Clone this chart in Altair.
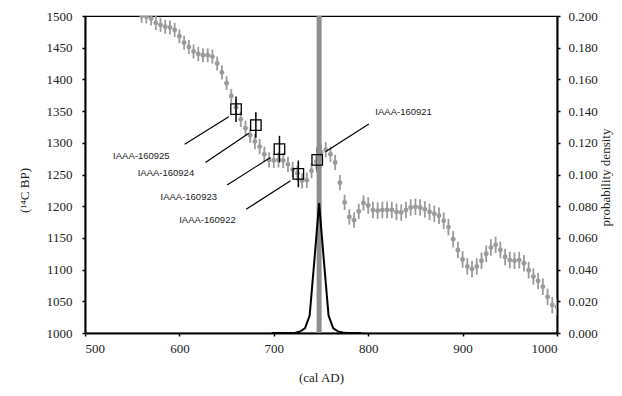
import altair as alt
import pandas as pd

# ---- calibration curve (IntCal-like), 5-year grid ----
cal_years = list(range(560, 1001, 5))
cal_c14 = [1500, 1499, 1496, 1489, 1486, 1483, 1482, 1478, 1468, 1458,
           1451, 1444, 1440, 1438, 1438, 1436, 1425, 1411, 1394, 1374,
           1356, 1337, 1323, 1312, 1302, 1294, 1282, 1273, 1272, 1273,
           1272, 1266, 1258, 1252, 1240, 1241, 1256, 1270, 1285, 1289,
           1282, 1269, 1237, 1206, 1183, 1178, 1192, 1205, 1201, 1194,
           1193, 1194, 1194, 1194, 1191, 1190, 1194, 1198, 1199, 1198,
           1195, 1191, 1188, 1185, 1177, 1167, 1148, 1131, 1116, 1105,
           1101, 1105, 1114, 1125, 1135, 1139, 1131, 1120, 1115, 1114,
           1115, 1110, 1099, 1089, 1082, 1073, 1057, 1044, 1041]
cal_err = [11, 11, 11, 11, 11, 11, 11, 11, 11, 11,
           11, 11, 11, 11, 11, 11, 11, 11, 11, 11,
           12, 12, 12, 12, 12, 12, 12, 12, 12, 12,
           12, 12, 12, 12, 12, 12, 12, 12, 12, 12,
           12, 12, 12, 12, 12, 12, 12, 12, 13, 13,
           13, 13, 13, 13, 13, 13, 13, 13, 13, 13,
           13, 13, 13, 13, 13, 13, 13, 13, 13, 13,
           13, 13, 13, 13, 13, 13, 13, 13, 13, 13,
           13, 13, 13, 13, 13, 13, 13, 13, 13]

# ---- samples ----
sample_ids = ["IAAA-160925", "IAAA-160924", "IAAA-160923", "IAAA-160922", "IAAA-160921"]
sample_years = [660, 681, 706, 726, 746]
sample_c14 = [1353, 1328, 1290, 1251, 1273]
sample_err = [20, 20, 21, 21, 20]

# ---- label annotations (data coordinates) ----
label_x = [559.7, 585.7, 609.9, 629.7, 837.5]
label_y = [1279, 1253, 1215, 1178, 1349]
lead_x1 = [605.6, 627.6, 650.6, 670.7, 800.7]
lead_y1 = [1297.6, 1269, 1233.4, 1195, 1329.7]
lead_x2 = [652.3, 673.5, 696.5, 717.7, 754.8]
lead_y2 = [1341, 1315, 1277, 1240, 1286]

# ---- marker of the outermost date ----
bar_year = [748]

# ---- probability density ----
dens_years = [698, 703, 708, 713, 718, 723, 728, 733, 738, 743, 748,
              753, 758, 763, 768, 773, 778, 783, 788, 793]
dens_vals = [0, 0, 0, 0, 0, 0.0002, 0.001, 0.003, 0.011, 0.046, 0.082,
             0.046, 0.011, 0.003, 0.001, 0.0003, 0, 0, 0, 0]

x_ticks = [500, 600, 700, 800, 900, 1000]
y_ticks = [1000, 1050, 1100, 1150, 1200, 1250, 1300, 1350, 1400, 1450, 1500]
p_ticks = [0.0, 0.02, 0.04, 0.06, 0.08, 0.10, 0.12, 0.14, 0.16, 0.18, 0.20]

curve_df = pd.DataFrame({"year": cal_years, "c14": cal_c14, "err": cal_err})
curve_df["lo"] = curve_df["c14"] - curve_df["err"]
curve_df["hi"] = curve_df["c14"] + curve_df["err"]
samp_df = pd.DataFrame({"id": sample_ids, "year": sample_years, "c14": sample_c14, "err": sample_err})
samp_df["lo"] = samp_df["c14"] - samp_df["err"]
samp_df["hi"] = samp_df["c14"] + samp_df["err"]
lab_df = pd.DataFrame({"id": sample_ids, "lx": label_x, "ly": label_y,
                       "x1": lead_x1, "y1": lead_y1, "x2": lead_x2, "y2": lead_y2})
bar_df = pd.DataFrame({"year": bar_year})
dens_df = pd.DataFrame({"year": dens_years, "p": dens_vals})

SERIF = "Liberation Serif"
GREY = "#9b9b9b"

x_scale = alt.Scale(domain=[500, 1000], nice=False)
y_scale = alt.Scale(domain=[1000, 1500], nice=False)

common = dict(grid=False, labelFont=SERIF, labelFontSize=13, labelColor="#222",
              labelOverlap=False,
              titleFont=SERIF, titleFontSize=13, titleFontWeight="normal", titleColor="#222",
              domainColor="black", domainWidth=2, tickColor="black", tickWidth=1.5, tickSize=3)

x_axis = alt.Axis(values=x_ticks, format="d", title="(cal AD)",
                  labelPadding=6, titleY=48, titleBaseline="alphabetic", **common)
y_axis = alt.Axis(values=y_ticks, format="d", title="(¹⁴C BP)", orient="left",
                  labelPadding=10, titleAngle=270, titleX=-57, titleY=174,
                  titleAlign="center", titleBaseline="alphabetic", **common)
p_axis = alt.Axis(values=p_ticks, format=".3f", title="probability density", orient="right",
                  labelPadding=8, titleAngle=270, titleX=52, titleY=161,
                  titleAlign="center", titleBaseline="alphabetic", **common)


def X(f):
    return alt.X(f, type="quantitative", scale=x_scale, axis=x_axis)


def Y(f):
    return alt.Y(f, type="quantitative", scale=y_scale, axis=y_axis)


curve_err_l = alt.Chart(curve_df).mark_rule(color=GREY, strokeWidth=1.8, clip=True).encode(
    x=X("year"), y=Y("lo"), y2="hi:Q",
)
curve_pts_l = alt.Chart(curve_df).mark_circle(color=GREY, size=24, opacity=1, clip=True).encode(
    x=X("year"), y=Y("c14")
)
samp_err_l = alt.Chart(samp_df).mark_rule(color="black", strokeWidth=1.5).encode(
    x=X("year"), y=Y("lo"), y2="hi:Q"
)
bar_l = alt.Chart(bar_df).mark_rule(color="#8e8e8e", strokeWidth=5).encode(x=X("year"))
squares_l = alt.Chart(samp_df).mark_point(shape="square", filled=False, color="black",
                                          size=110, strokeWidth=1.3, opacity=1).encode(
    x=X("year"), y=Y("c14")
)
leaders_l = alt.Chart(lab_df).mark_rule(color="black", strokeWidth=1.2).encode(
    x=X("x1"), y=Y("y1"), x2="x2:Q", y2="y2:Q"
)
texts_l = alt.Chart(lab_df).mark_text(font="Liberation Sans", fontSize=9.5, color="#222").encode(
    x=X("lx"), y=Y("ly"), text="id:N"
)

left = alt.layer(curve_err_l, curve_pts_l, samp_err_l, bar_l, squares_l, leaders_l, texts_l)

dens_l = alt.Chart(dens_df).mark_line(color="black", strokeWidth=2).encode(
    x=X("year"),
    y=alt.Y("p:Q", scale=alt.Scale(domain=[0, 0.2], nice=False), axis=p_axis),
)

chart = alt.layer(left, dens_l).resolve_scale(y="independent").properties(
    width=472, height=317,
    autosize=alt.AutoSizeParams(type="none"),
    padding={"left": 77, "top": 8, "right": 57, "bottom": 55},
    background="white",
).configure_view(stroke="black", strokeWidth=1.2)

chart.save("out.html", embed_options={"renderer": "svg", "actions": False})
